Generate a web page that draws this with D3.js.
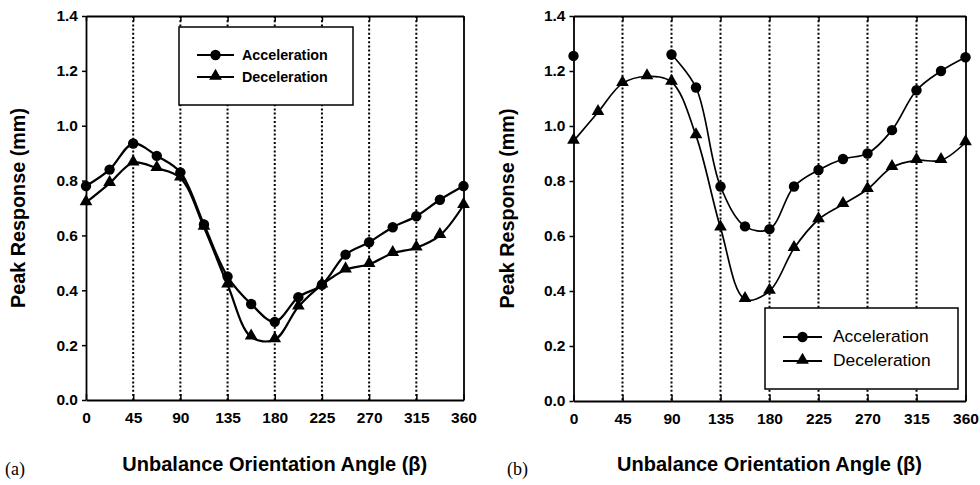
<!DOCTYPE html>
<html>
<head>
<meta charset="utf-8">
<script src="https://cdn.jsdelivr.net/npm/d3@7"></script>
<style>
  body { margin: 0; background: #fff; }
  svg { display: block; }
  text { font-family: Arial, "Liberation Sans", sans-serif; fill: #000; }
</style>
</head>
<body>
<svg id="chart" width="980" height="485"></svg>
<script>
// orientation angles (deg), one point every 22.5
var angles = [0, 22.5, 45, 67.5, 90, 112.5, 135, 157.5, 180, 202.5, 225, 247.5, 270, 292.5, 315, 337.5, 360];
var xTicks = [0, 45, 90, 135, 180, 225, 270, 315, 360];
var yTicks = [0.0, 0.2, 0.4, 0.6, 0.8, 1.0, 1.2, 1.4];
var seriesNames = ["Acceleration", "Deceleration"];

// panel (a)
var accelA = [0.78, 0.84, 0.935, 0.89, 0.83, 0.64, 0.45, 0.35, 0.285, 0.375, 0.42, 0.53, 0.575, 0.63, 0.67, 0.73, 0.78];
var decelA = [0.72, 0.79, 0.865, 0.845, 0.81, 0.63, 0.42, 0.23, 0.22, 0.34, 0.42, 0.475, 0.495, 0.535, 0.555, 0.60, 0.71];

// panel (b)  (no acceleration readings between 0 and 90)
var accelB = [1.255, null, null, null, 1.26, 1.14, 0.78, 0.635, 0.625, 0.78, 0.84, 0.88, 0.90, 0.985, 1.13, 1.20, 1.25];
var decelB = [0.945, 1.05, 1.155, 1.18, 1.16, 0.965, 0.63, 0.37, 0.40, 0.555, 0.66, 0.715, 0.77, 0.85, 0.875, 0.875, 0.94];

var svg = d3.select("#chart");

var draw_panel = function(p) {
    var x = d3.scaleLinear().domain([0, 360]).range([p.left, p.right]);
    var y = d3.scaleLinear().domain([0, 1.4]).range([p.bottom, p.top]);
    var g = svg.append("g");

    // dotted verticals
    g.selectAll("line.grid").data(xTicks.slice(1, -1)).enter().append("line")
        .attr("x1", function(d){ return x(d); }).attr("x2", function(d){ return x(d); })
        .attr("y1", p.top).attr("y2", p.bottom)
        .attr("stroke", "#000").attr("stroke-width", 2)
        .attr("stroke-dasharray", "2,2.2");

    // axes
    var xa = g.append("g").attr("transform", "translate(0," + p.bottom + ")")
        .call(d3.axisBottom(x).tickValues(xTicks).tickSizeInner(-6).tickSizeOuter(0).tickPadding(12));
    var xt = g.append("g").attr("transform", "translate(0," + p.top + ")")
        .call(d3.axisTop(x).tickValues(xTicks).tickSizeInner(-5).tickSizeOuter(0).tickFormat(""));
    var ya = g.append("g").attr("transform", "translate(" + p.left + ",0)")
        .call(d3.axisLeft(y).tickValues(yTicks).tickSizeInner(4).tickSizeOuter(0).tickPadding(4)
              .tickFormat(d3.format(".1f")));
    var yr = g.append("g").attr("transform", "translate(" + p.right + ",0)")
        .call(d3.axisRight(y).tickValues(yTicks).tickSizeInner(0).tickSizeOuter(0).tickFormat(""));
    [xa, xt, ya, yr].forEach(function(a){
        a.select(".domain").attr("stroke-width", 1.8);
        a.selectAll(".tick line").attr("stroke-width", 1.5);
        a.selectAll("text").style("font-size", "15.5px").style("font-weight", "bold")
            .style("font-family", "Arial, 'Liberation Sans', sans-serif");
    });

    var line = d3.line()
        .defined(function(d){ return d[1] !== null; })
        .x(function(d){ return x(d[0]); })
        .y(function(d){ return y(d[1]); })
        .curve(d3.curveCatmullRom.alpha(0.5));

    var sym = [d3.symbolCircle, d3.symbolTriangle];
    [p.accel, p.decel].forEach(function(vals, i){
        var pts = angles.map(function(a, k){ return [a, vals[k]]; });
        g.append("path").attr("d", line(pts))
            .attr("fill", "none").attr("stroke", "#000").attr("stroke-width", p.lw);
        g.selectAll("path.m" + i).data(pts.filter(function(d){ return d[1] !== null; }))
            .enter().append("path").attr("class", "m" + i)
            .attr("d", d3.symbol().type(sym[i]).size(i == 0 ? 85 : 70))
            .attr("transform", function(d){ return "translate(" + x(d[0]) + "," + (y(d[1]) - (i == 1 ? 1 : 0)) + ")"; })
            .attr("fill", "#000");
    });

    // legend
    var L = p.legend;
    var lg = g.append("g");
    lg.append("rect").attr("x", L.x0).attr("y", L.y0)
        .attr("width", L.x1 - L.x0).attr("height", L.y1 - L.y0)
        .attr("fill", "#fff").attr("stroke", "#000").attr("stroke-width", 1.5);
    seriesNames.forEach(function(name, i){
        var yy = L.rows[i];
        lg.append("line").attr("x1", L.lx0).attr("x2", L.lx1).attr("y1", yy).attr("y2", yy)
            .attr("stroke", "#000").attr("stroke-width", 2);
        lg.append("path").attr("d", d3.symbol().type(sym[i]).size(i == 0 ? 85 : 70))
            .attr("transform", "translate(" + ((L.lx0 + L.lx1) / 2) + "," + (yy - (i == 1 ? 1 : 0)) + ")");
        lg.append("text").attr("x", L.tx).attr("y", yy + 5)
            .style("font-size", L.fs).style("font-weight", L.fw).text(name);
    });

    // titles
    svg.append("text").attr("transform", "translate(" + p.ytx + "," + ((p.top + p.bottom) / 2) + ") rotate(-90)")
        .attr("text-anchor", "middle").style("font-size", "19.8px").style("font-weight", "bold")
        .text("Peak Response (mm)");
    svg.append("text").attr("x", (p.left + p.right) / 2).attr("y", 471)
        .attr("text-anchor", "middle").style("font-size", "20px").style("font-weight", "bold")
        .text("Unbalance Orientation Angle (\u03b2)");
    svg.append("text").attr("x", p.tag).attr("y", 475)
        .style("font-family", "'Liberation Serif', 'Times New Roman', serif").style("font-size", "18px")
        .text(p.label);
};

draw_panel({
    left: 86, right: 463.5, top: 16, bottom: 400, lw: 2.2,
    accel: accelA, decel: decelA, ytx: 25, tag: 5, label: "(a)",
    legend: {x0: 179, x1: 353, y0: 27, y1: 105, lx0: 197, lx1: 234, tx: 242, rows: [55, 77],
             fs: "14.3px", fw: "bold"}
});
draw_panel({
    left: 573.5, right: 965.5, top: 16, bottom: 401, lw: 1.7,
    accel: accelB, decel: decelB, ytx: 514, tag: 507, label: "(b)",
    legend: {x0: 765, x1: 958, y0: 308, y1: 389, lx0: 783, lx1: 822, tx: 833, rows: [337, 361],
             fs: "17.4px", fw: "normal"}
});
</script>
</body>
</html>
